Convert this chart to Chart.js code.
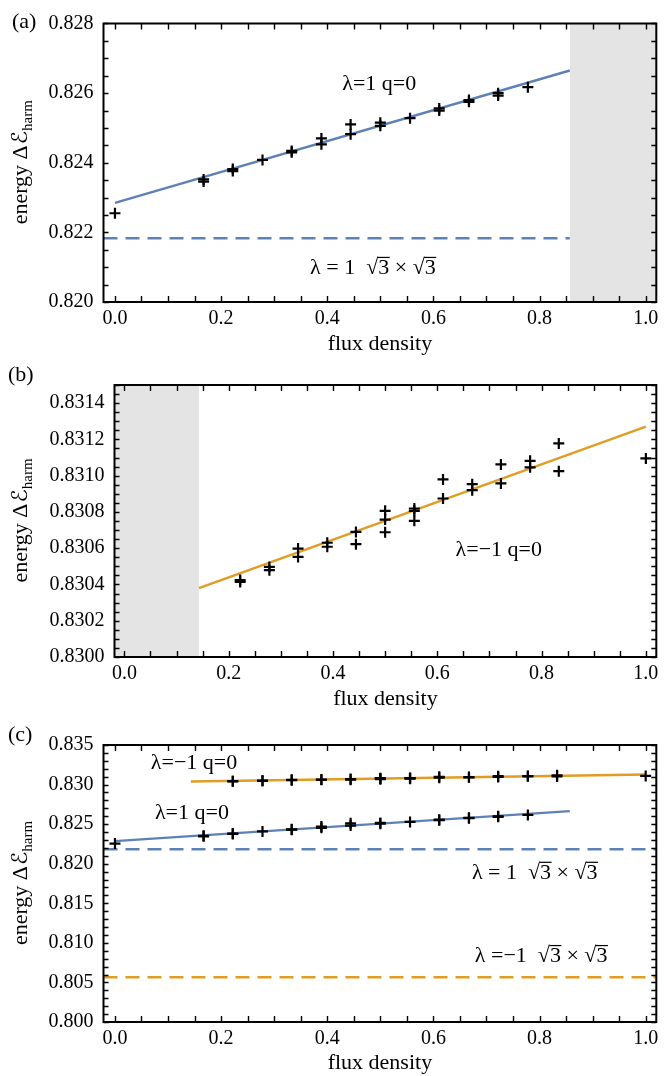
<!DOCTYPE html>
<html>
<head>
<meta charset="utf-8">
<title>energy vs flux density</title>
<script src="https://cdn.jsdelivr.net/npm/chart.js@4.4.1/dist/chart.umd.min.js"></script>
<style>
  html, body { margin: 0; padding: 0; background: #fff; }
  body { position: relative; width: 664px; height: 1076px; overflow: hidden; }
  canvas { position: absolute; left: 0; }
</style>
</head>
<body>
<canvas id="panelA" width="664" height="360" style="top:0px"></canvas>
<canvas id="panelB" width="664" height="355" style="top:360px"></canvas>
<canvas id="panelC" width="664" height="356" style="top:720px"></canvas>
<script>
// --- data ---
const xTicks = [0.0, 0.2, 0.4, 0.6, 0.8, 1.0];

// lambda = 1, q = 0 (blue)
const fluxA = [0.000, 0.167, 0.167, 0.222, 0.222, 0.278, 0.333, 0.333, 0.389, 0.389, 0.444,
               0.444, 0.500, 0.500, 0.556, 0.611, 0.611, 0.667, 0.667, 0.722, 0.722, 0.778];
const energyA = [0.82255, 0.82352, 0.82346, 0.82382, 0.82376, 0.82408, 0.82434, 0.82430, 0.82470, 0.82453, 0.82510,
                 0.82482, 0.82515, 0.82506, 0.82528, 0.82556, 0.82550, 0.82580, 0.82575, 0.82600, 0.82593, 0.82617];
const fitFluxA = [0.000, 0.857];
const fitEnergyA = [0.82285, 0.82665];
const refEnergyA = 0.82183;   // lambda = 1, sqrt3 x sqrt3

// lambda = -1, q = 0 (orange)
const fluxB = [0.222, 0.222, 0.278, 0.278, 0.333, 0.333, 0.389, 0.389, 0.444, 0.444, 0.500, 0.500, 0.500, 0.556,
               0.556, 0.556, 0.611, 0.611, 0.667, 0.667, 0.722, 0.722, 0.778, 0.778, 0.833, 0.833, 1.000];
const energyB = [0.830424, 0.830414, 0.830497, 0.830479, 0.830598, 0.830552, 0.830630, 0.830608, 0.830690,
                 0.830622, 0.830806, 0.830758, 0.830688, 0.830819, 0.830806, 0.830751, 0.830979, 0.830874,
                 0.830953, 0.830920, 0.831062, 0.830957, 0.831082, 0.831046, 0.831178, 0.831025, 0.831095];
const fitFluxB = [0.143, 1.000];
const fitEnergyB = [0.83038, 0.83127];
const refEnergyB = 0.80566;   // lambda = -1, sqrt3 x sqrt3

const shadeA = [0.857, 1.02];
const shadeB = [-0.02, 0.143];

const yTicksA = [0.820, 0.822, 0.824, 0.826, 0.828];
const yTicksB = [0.8300, 0.8302, 0.8304, 0.8306, 0.8308, 0.8310, 0.8312, 0.8314];
const yTicksC = [0.800, 0.805, 0.810, 0.815, 0.820, 0.825, 0.830, 0.835];

const BLUE = '#5e81b5';
const ORANGE = '#e19c24';
const SERIF = '"Liberation Serif", "Times New Roman", serif';

// --- helpers ---
const pts = (xs, ys) => xs.map((v, i) => ({ x: v, y: ys[i] }));

function marks(xs, ys) {
  return { data: pts(xs, ys), showLine: false, pointStyle: 'cross', pointRadius: 5.5,
           pointBorderWidth: 2.2, pointBorderColor: '#000', borderColor: '#000' };
}
function line(xs, ys, color, dash) {
  return { data: pts(xs, ys), showLine: true, borderColor: color, borderWidth: 2.4,
           borderDash: dash || [], pointRadius: 0, fill: false };
}
function shade(xs, top) {
  return { data: xs.map(v => ({ x: v, y: top })), showLine: true, borderWidth: 0,
           borderColor: 'rgba(0,0,0,0)', backgroundColor: '#e4e4e4', fill: 'start', pointRadius: 0 };
}

// text with radicals: the glyph after a √ gets an overline
function drawNote(ctx, cx, cy, text) {
  ctx.font = '22px ' + SERIF;
  ctx.textBaseline = 'alphabetic';
  ctx.textAlign = 'left';
  const w = ctx.measureText(text).width;
  let px = cx - w / 2;
  const base = cy + 7;
  let rad = false;
  for (const ch of text) {
    const cw = ctx.measureText(ch).width;
    ctx.fillText(ch, px, base);
    if (rad) ctx.fillRect(px - 0.5, base - 17, cw + 1, 1.2);
    rad = ch === '√';
    px += cw;
  }
}

function minorValues(min, max, step) {
  const out = [];
  for (let k = Math.ceil(min / step - 1e-6); k * step <= max + step * 1e-6; k++) out.push(k * step);
  return out;
}

const deco = {
  id: 'deco',
  afterDraw(chart, args, o) {
    const { ctx, chartArea: a } = chart;
    const x = chart.scales.x, y = chart.scales.y;
    ctx.save();
    ctx.strokeStyle = '#000';
    ctx.fillStyle = '#000';
    ctx.lineWidth = 1.4;
    ctx.beginPath();
    minorValues(x.min, x.max, o.xMinor).forEach(v => {
      const p = Math.round(x.getPixelForValue(v)) + 0.5;
      ctx.moveTo(p, a.bottom); ctx.lineTo(p, a.bottom - 6);
      ctx.moveTo(p, a.top); ctx.lineTo(p, a.top + 6);
    });
    minorValues(y.min, y.max, o.yMinor).forEach(v => {
      const p = Math.round(y.getPixelForValue(v)) + 0.5;
      ctx.moveTo(a.left, p); ctx.lineTo(a.left + 5, p);
      ctx.moveTo(a.right, p); ctx.lineTo(a.right - 5, p);
    });
    ctx.stroke();
    ctx.lineWidth = 2;
    ctx.strokeRect(a.left, a.top, a.right - a.left, a.bottom - a.top);

    (o.notes || []).forEach(n => drawNote(ctx, x.getPixelForValue(n.x), y.getPixelForValue(n.y), n.text));

    // panel tag
    ctx.font = '22px ' + SERIF;
    ctx.textAlign = 'left';
    ctx.textBaseline = 'alphabetic';
    ctx.fillText(o.tag, o.tagX, o.tagY);

    // y title: energy ΔE_harm
    ctx.translate(27, (a.top + a.bottom) / 2);
    ctx.rotate(-Math.PI / 2);
    const pre = 'energy Δ', scr = 'ℰ', sub = 'harm';
    const fMain = '22px ' + SERIF, fScr = 'italic 22px "DejaVu Sans", "Noto Sans"', fSub = '15px ' + SERIF;
    ctx.font = fMain; const w1 = ctx.measureText(pre).width;
    ctx.font = fScr; const w2 = ctx.measureText(scr).width;
    ctx.font = fSub; const w3 = ctx.measureText(sub).width;
    const start = -(w1 + w2 + w3) / 2;
    ctx.font = fMain; ctx.fillText(pre, start, 0);
    ctx.font = fScr; ctx.fillText(scr, start + w1 + 1, 0);
    ctx.font = fSub; ctx.fillText(sub, start + w1 + w2 + 1, 5);
    ctx.restore();
  }
};

function makePanel(id, c) {
  return new Chart(document.getElementById(id), {
    type: 'scatter',
    data: { datasets: c.datasets },
    options: {
      responsive: false,
      animation: false,
      events: [],
      layout: { padding: { top: c.padTop, right: 6, left: 0, bottom: 0 } },
      plugins: {
        legend: { display: false },
        tooltip: { enabled: false },
        deco: { xMinor: 0.05, yMinor: c.yMinor, tag: c.tag, tagX: c.tagX, tagY: c.tagY, notes: c.notes }
      },
      scales: {
        x: {
          type: 'linear', min: c.xRange[0], max: c.xRange[1],
          afterBuildTicks: s => { s.ticks = xTicks.map(v => ({ value: v })); },
          afterFit: s => { s.height = c.xAxisHeight; },
          grid: { display: false, drawTicks: false },
          border: { display: false },
          ticks: { callback: v => v.toFixed(1), color: '#000', font: { family: SERIF, size: 20 },
                   padding: 5, maxRotation: 0, autoSkip: false },
          title: { display: true, text: 'flux density', color: '#000',
                   font: { family: SERIF, size: 22, lineHeight: 1.2 },
                   padding: { top: 0, bottom: c.titlePad } }
        },
        y: {
          type: 'linear', min: c.yRange[0], max: c.yRange[1],
          afterBuildTicks: s => { s.ticks = c.yTicks.map(v => ({ value: v })); },
          afterFit: s => { s.width = c.yAxisWidth; },
          grid: { display: false, drawTicks: false },
          border: { display: false },
          ticks: { callback: v => v.toFixed(c.digits), color: '#000', font: { family: SERIF, size: 20 },
                   padding: 10, autoSkip: false }
        }
      }
    },
    plugins: [deco]
  });
}

makePanel('panelA', {
  padTop: 23.5, xAxisHeight: 58, titlePad: 2.8, yAxisWidth: 103.5,
  xRange: [-0.0216, 1.02], yRange: [0.820, 0.828], yTicks: yTicksA, digits: 3, yMinor: 0.0005,
  tag: '(a)', tagX: 12, tagY: 28,
  notes: [
    { text: 'λ=1 q=0', x: 0.498, y: 0.82628 },
    { text: 'λ = 1  √3 × √3', x: 0.486, y: 0.82101 }
  ],
  datasets: [
    marks(fluxA, energyA),
    line(fitFluxA, fitEnergyA, BLUE),
    line([-0.0216, shadeA[0]], [refEnergyA, refEnergyA], BLUE, [14, 8]),
    shade(shadeA, 0.828)
  ]
});

makePanel('panelB', {
  padTop: 25, xAxisHeight: 58, titlePad: 2.8, yAxisWidth: 114.5,
  xRange: [-0.019, 1.02], yRange: [0.8300, 0.8315], yTicks: yTicksB, digits: 4, yMinor: 0.00005,
  tag: '(b)', tagX: 8, tagY: 21,
  notes: [
    { text: 'λ=−1 q=0', x: 0.718, y: 0.830598 }
  ],
  datasets: [
    marks(fluxB, energyB),
    line(fitFluxB, fitEnergyB, ORANGE),
    shade(shadeB, 0.8315)
  ]
});

makePanel('panelC', {
  padTop: 25, xAxisHeight: 54, titlePad: 0, yAxisWidth: 103.5,
  xRange: [-0.0216, 1.02], yRange: [0.800, 0.835], yTicks: yTicksC, digits: 3, yMinor: 0.001,
  tag: '(c)', tagX: 8, tagY: 21,
  notes: [
    { text: 'λ=−1 q=0', x: 0.149, y: 0.83289 },
    { text: 'λ=1 q=0', x: 0.145, y: 0.82657 },
    { text: 'λ = 1  √3 × √3', x: 0.791, y: 0.81899 },
    { text: 'λ =−1  √3 × √3', x: 0.803, y: 0.80847 }
  ],
  datasets: [
    marks(fluxB, energyB),
    marks(fluxA, energyA),
    line(fitFluxB, fitEnergyB, ORANGE),
    line(fitFluxA, fitEnergyA, BLUE),
    line([-0.0216, 1.02], [refEnergyA, refEnergyA], BLUE, [14, 8]),
    line([-0.0216, 1.02], [refEnergyB, refEnergyB], ORANGE, [14, 8])
  ]
});
</script>
</body>
</html>
